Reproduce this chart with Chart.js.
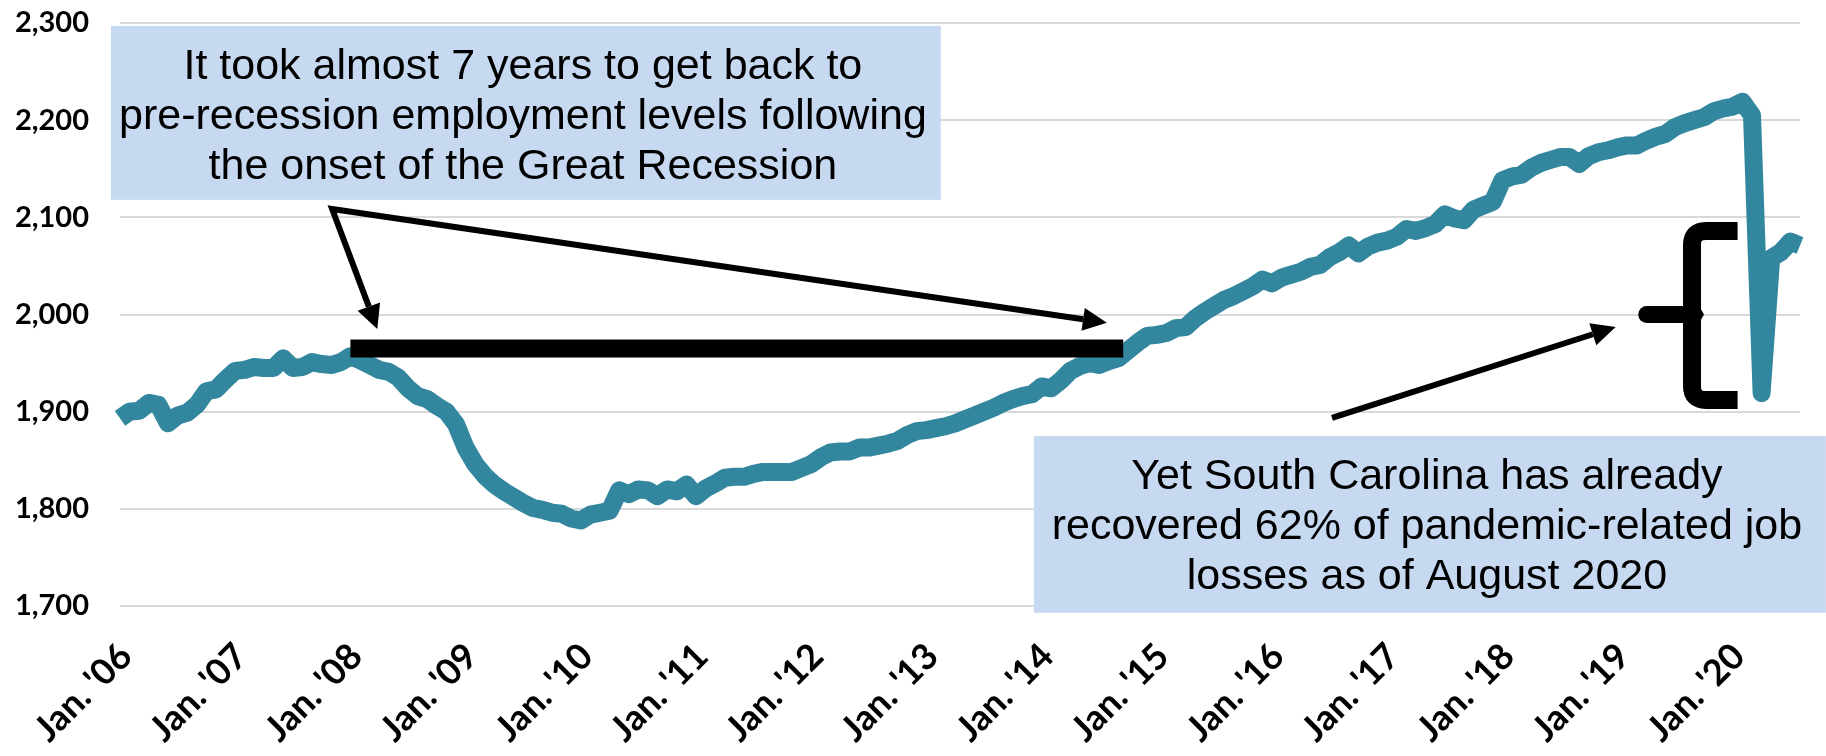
<!DOCTYPE html>
<html>
<head>
<meta charset="utf-8">
<title>South Carolina nonfarm employment</title>
<script src="https://cdn.jsdelivr.net/npm/chart.js@4.4.1/dist/chart.umd.min.js"></script>
<style>
  html, body { margin: 0; padding: 0; background: #ffffff; }
  #wrap { width: 1826px; height: 756px; position: relative; }
</style>
</head>
<body>
<div id="wrap"><canvas id="chart" width="1826" height="756"></canvas></div>
<script>
// Total nonfarm employment, South Carolina (thousands), monthly Jan 2006 - Aug 2020
const emp2006 = [1893, 1900, 1901, 1909, 1907, 1888, 1896, 1899, 1907, 1921, 1923, 1933];
const emp2007 = [1942, 1943, 1946, 1945, 1945, 1955, 1945, 1946, 1951, 1949, 1948, 1951];
const emp2008 = [1957, 1953, 1948, 1943, 1941, 1935, 1924, 1916, 1913, 1906, 1900, 1887];
const emp2009 = [1863, 1846, 1834, 1825, 1818, 1812, 1806, 1801, 1799, 1796, 1795, 1790];
const emp2010 = [1788, 1794, 1796, 1798, 1819, 1815, 1820, 1819, 1813, 1820, 1818, 1825];
const emp2011 = [1813, 1821, 1826, 1832, 1833, 1833, 1836, 1838, 1838, 1838, 1838, 1842];
const emp2012 = [1846, 1853, 1858, 1859, 1859, 1863, 1863, 1865, 1867, 1870, 1876, 1880];
const emp2013 = [1881, 1883, 1885, 1888, 1892, 1896, 1900, 1904, 1909, 1913, 1916, 1918];
const emp2014 = [1926, 1924, 1932, 1942, 1947, 1950, 1948, 1952, 1955, 1963, 1971, 1978];
const emp2015 = [1979, 1981, 1986, 1987, 1996, 2003, 2009, 2015, 2019, 2024, 2029, 2036];
const emp2016 = [2032, 2038, 2041, 2044, 2049, 2051, 2059, 2064, 2071, 2063, 2070, 2074];
const emp2017 = [2076, 2080, 2088, 2086, 2089, 2093, 2103, 2099, 2097, 2108, 2112, 2116];
const emp2018 = [2138, 2142, 2144, 2151, 2156, 2159, 2162, 2162, 2155, 2163, 2167, 2169];
const emp2019 = [2172, 2174, 2174, 2179, 2183, 2186, 2193, 2197, 2200, 2203, 2209, 2212];
const emp2020 = [2214, 2219, 2205, 1919, 2058, 2064, 2075, 2071];

const employment = [].concat(emp2006, emp2007, emp2008, emp2009, emp2010, emp2011, emp2012,
  emp2013, emp2014, emp2015, emp2016, emp2017, emp2018, emp2019, emp2020);

const firstYear = 2006;
const monthNames = ['Jan', 'Feb', 'Mar', 'Apr', 'May', 'Jun', 'Jul', 'Aug', 'Sep', 'Oct', 'Nov', 'Dec'];
const months = employment.map((_, i) => monthNames[i % 12] + ' ' + (firstYear + Math.floor(i / 12)));

const yearTickLabels = ["Jan. '06", "Jan. '07", "Jan. '08", "Jan. '09", "Jan. '10", "Jan. '11", "Jan. '12",
  "Jan. '13", "Jan. '14", "Jan. '15", "Jan. '16", "Jan. '17", "Jan. '18", "Jan. '19", "Jan. '20"];

const yTickValues = [1700, 1800, 1900, 2000, 2100, 2200, 2300];

// Call-out text
const recessionNote = ['It took almost 7 years to get back to',
  'pre-recession employment levels following',
  'the onset of the Great Recession'];
const pandemicNote = ['Yet South Carolina has already',
  'recovered 62% of pandemic-related job',
  'losses as of August 2020'];

// Annotation geometry, in data units (month index, thousands of jobs)
const notes = {
  topBox:    { x0: -0.94, x1: 85.5, yTop: 2297, yBottom: 2118, lines: recessionNote },
  bottomBox: { x0: 95.2, x1: 177.7, yTop: 1875, yBottom: 1693, lines: pandemicNote },
  recoveryBar: { x0: 24, x1: 104.5, y: 1965 },
  fork: { from: { x: 22.1, y: 2108.5 }, tips: [{ x: 26.8, y: 1985 }, { x: 102.8, y: 1991.5 }] },
  pointer: { from: { x: 126.25, y: 1893.6 }, to: { x: 155.8, y: 1987.2 } },
  brace: { xTip: 158.2, xSpine: 163.75, xEnd: 168.5, yTop: 2086, yMid: 2000, yBottom: 1912 }
};

const LINE_COLOR = '#32879E';
const FILL_NOTE = '#C6D9F1';
const INK = '#000000';

function arrowHead(ctx, fx, fy, tx, ty, len, width) {
  const a = Math.atan2(ty - fy, tx - fx);
  const bx = tx - len * Math.cos(a), by = ty - len * Math.sin(a);
  const nx = -Math.sin(a) * width / 2, ny = Math.cos(a) * width / 2;
  ctx.beginPath();
  ctx.moveTo(tx, ty);
  ctx.lineTo(bx + nx, by + ny);
  ctx.lineTo(bx - nx, by - ny);
  ctx.closePath();
  ctx.fill();
  return [bx, by];
}

const annotationPlugin = {
  id: 'callouts',
  afterDatasetsDraw(chart) {
    const ctx = chart.ctx;
    const xs = chart.scales.x, ys = chart.scales.y;
    const px = v => xs.getPixelForValue(v);
    const py = v => ys.getPixelForValue(v);
    ctx.save();

    // Text boxes
    [notes.topBox, notes.bottomBox].forEach(b => {
      const l = px(b.x0), r = px(b.x1), t = py(b.yTop), btm = py(b.yBottom);
      ctx.fillStyle = FILL_NOTE;
      ctx.fillRect(l, t, r - l, btm - t);
      ctx.fillStyle = INK;
      ctx.font = '43px "Liberation Sans", Arial, sans-serif';
      ctx.textAlign = 'center';
      ctx.textBaseline = 'alphabetic';
      const cx = (l + r) / 2 - 3;
      b.lines.forEach((s, i) => ctx.fillText(s, cx, t + 53 + i * 50));
    });

    // Thick bar marking the return to the pre-recession level
    ctx.fillStyle = INK;
    const barY = py(notes.recoveryBar.y);
    ctx.fillRect(px(notes.recoveryBar.x0), barY - 9, px(notes.recoveryBar.x1) - px(notes.recoveryBar.x0), 18);

    // Forked arrow from the upper box
    ctx.strokeStyle = INK;
    ctx.lineWidth = 6;
    ctx.lineJoin = 'miter';
    const fx = px(notes.fork.from.x), fy = py(notes.fork.from.y);
    const tA = notes.fork.tips[0], tB = notes.fork.tips[1];
    const baseA = arrowHead(ctx, fx, fy, px(tA.x), py(tA.y), 24, 24);
    const baseB = arrowHead(ctx, fx, fy, px(tB.x), py(tB.y), 24, 23);
    ctx.beginPath();
    ctx.moveTo(baseA[0], baseA[1]);
    ctx.lineTo(fx, fy);
    ctx.lineTo(baseB[0], baseB[1]);
    ctx.stroke();

    // Arrow from the lower box to the brace
    const p = notes.pointer;
    const sx = px(p.from.x), sy = py(p.from.y);
    const baseC = arrowHead(ctx, sx, sy, px(p.to.x), py(p.to.y), 24, 23);
    ctx.beginPath();
    ctx.moveTo(sx, sy);
    ctx.lineTo(baseC[0], baseC[1]);
    ctx.stroke();

    // Curly brace spanning the pandemic drop
    const br = notes.brace;
    const xe = px(br.xEnd), xsp = px(br.xSpine), xt = px(br.xTip);
    const yt = py(br.yTop), ym = py(br.yMid), yb = py(br.yBottom);
    const rr = 14;
    ctx.lineWidth = 18;
    ctx.lineCap = 'butt';
    ctx.lineJoin = 'round';
    ctx.beginPath();
    ctx.moveTo(xe, yt);
    ctx.lineTo(xsp + rr, yt);
    ctx.quadraticCurveTo(xsp, yt, xsp, yt + rr);
    ctx.lineTo(xsp, yb - rr);
    ctx.quadraticCurveTo(xsp, yb, xsp + rr, yb);
    ctx.lineTo(xe, yb);
    ctx.stroke();
    ctx.lineWidth = 17;
    ctx.lineCap = 'round';
    ctx.beginPath();
    ctx.moveTo(xt + 8, ym);
    ctx.lineTo(xsp, ym);
    ctx.stroke();
    ctx.beginPath();
    ctx.moveTo(xsp + 8, ym - 7);
    ctx.lineTo(xsp + 12, ym);
    ctx.lineTo(xsp + 8, ym + 7);
    ctx.closePath();
    ctx.fill();

    ctx.restore();
  }
};

new Chart(document.getElementById('chart'), {
  type: 'line',
  data: {
    labels: months,
    datasets: [{
      label: 'Total nonfarm employment (thousands)',
      data: employment,
      borderColor: LINE_COLOR,
      borderWidth: 18,
      pointRadius: 0,
      pointHoverRadius: 0,
      tension: 0,
      borderJoinStyle: 'round',
      borderCapStyle: 'butt',
      fill: false
    }]
  },
  options: {
    responsive: false,
    animation: false,
    devicePixelRatio: 1,
    layout: { padding: { left: 0, right: 26, top: 23, bottom: 0 } },
    plugins: {
      legend: { display: false },
      tooltip: { enabled: false },
      title: { display: false }
    },
    scales: {
      x: {
        type: 'category',
        offset: false,
        grid: { display: false, drawTicks: false },
        border: { display: false },
        ticks: {
          autoSkip: false,
          minRotation: 45,
          maxRotation: 45,
          padding: 29,
          labelOffset: 6,
          color: INK,
          font: { family: 'Lato', weight: 'bold', size: 36 },
          callback: (value, index) => (index % 12 === 0 ? yearTickLabels[index / 12] : '')
        },
        afterFit: scale => { scale.height = 150; scale.paddingLeft = 0; scale.paddingRight = 0; }
      },
      y: {
        min: yTickValues[0],
        max: yTickValues[yTickValues.length - 1],
        grid: { color: '#D9D9D9', lineWidth: 2, drawTicks: false },
        border: { display: false },
        ticks: {
          stepSize: 100,
          padding: 31,
          color: INK,
          font: { family: 'Lato', weight: 'bold', size: 29 },
          callback: v => v.toLocaleString('en-US')
        },
        afterFit: scale => { scale.width = 120; scale.paddingTop = 0; scale.paddingBottom = 0; }
      }
    }
  },
  plugins: [annotationPlugin]
});
</script>
</body>
</html>
